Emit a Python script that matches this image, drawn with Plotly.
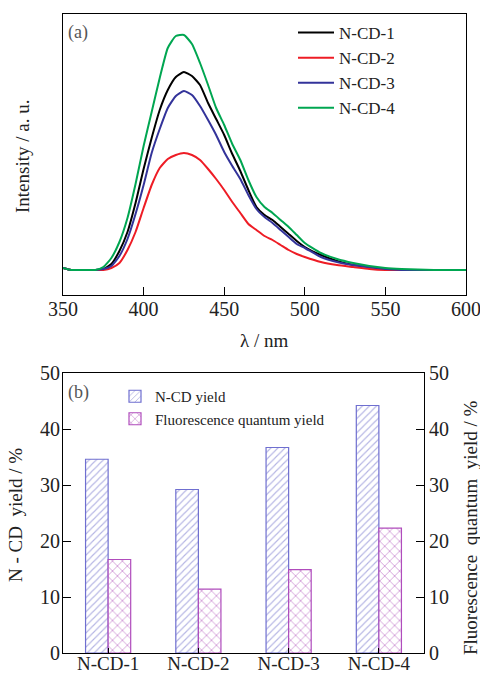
import plotly.graph_objects as go

# ---- (a) fluorescence emission spectra ----
wavelength = [350, 355, 360, 365, 370, 375, 380, 385, 390, 395, 400, 405, 410, 415,
              420, 425, 430, 435, 440, 445, 450, 455, 460, 465, 470, 475, 480, 485,
              490, 495, 500, 510, 520, 530, 540, 550, 560, 580, 600]

ncd1 = [2, 0, 0, 0, 0, 1, 6, 19, 38, 67, 101, 132, 160, 180,
        193, 198, 194, 185, 167, 151, 135, 116, 99, 80, 63, 55, 50, 43,
        36, 29, 23, 15, 9, 5, 3, 1, 0, 0, 0]
ncd2 = [2, 0, 0, 0, 0, 0, 2, 7, 20, 38, 62, 85, 102, 111,
        115, 117, 115, 110, 101, 91, 80, 68, 57, 46, 40, 34, 30, 25,
        20, 16, 13, 8, 5, 3, 1, 0, 0, 0, 0]
ncd3 = [2, 0, 0, 0, 0, 1, 4, 14, 31, 56, 85, 117, 141, 162,
        174, 179, 175, 164, 150, 135, 118, 104, 91, 75, 61, 53, 47, 40,
        33, 26, 22, 13, 8, 5, 3, 1, 0, 0, 0]
ncd4 = [2, 0, 0, 0, 0, 3, 12, 28, 52, 86, 124, 158, 192, 222,
        234, 235, 226, 207, 185, 162, 145, 126, 110, 90, 73, 63, 57, 50,
        43, 35, 27, 17, 11, 7, 4, 2, 1, 0, 0]

spectra_names = ["N-CD-1", "N-CD-2", "N-CD-3", "N-CD-4"]
spectra_colors = ["#000000", "#ee1c25", "#33339a", "#00a651"]

# ---- (b) yields ----
samples = ["N-CD-1", "N-CD-2", "N-CD-3", "N-CD-4"]
ncd_yield = [34.6, 29.2, 36.7, 44.2]
fq_yield = [16.7, 11.4, 14.9, 22.3]
yield_ticks = [0, 10, 20, 30, 40, 50]

SERIF = "Liberation Serif"
W, H = 480, 674


def px_x(p):
    return p / W


def px_y(p):
    return 1 - p / H


fig = go.Figure()

for name, vals, col in zip(spectra_names, [ncd1, ncd2, ncd3, ncd4], spectra_colors):
    fig.add_trace(go.Scatter(
        x=wavelength, y=vals, mode="lines", name=name,
        line=dict(color=col, width=2, shape="spline", smoothing=0.5),
        xaxis="x", yaxis="y", legend="legend",
    ))

fig.add_trace(go.Bar(
    x=samples, y=ncd_yield, name="N-CD yield",
    xaxis="x2", yaxis="y3", legend="legend2",
    offsetgroup="a", alignmentgroup="b",
    marker=dict(color="white", line=dict(color="#6f6fd0", width=1.2),
                pattern=dict(shape="/", fgcolor="#6a6ac8", bgcolor="white",
                             size=5, solidity=0.22)),
))
fig.add_trace(go.Bar(
    x=samples, y=fq_yield, name="Fluorescence quantum yield",
    xaxis="x2", yaxis="y4", legend="legend2",
    offsetgroup="b", alignmentgroup="b",
    marker=dict(color="white", line=dict(color="#b04cbc", width=1.2),
                pattern=dict(shape="x", fgcolor="#a843b4", bgcolor="white",
                             size=7, solidity=0.25)),
))

axis_font = dict(family=SERIF, size=20, color="#222")
line_common = dict(showline=True, linecolor="black", linewidth=1, mirror=True,
                   showgrid=False, zeroline=False, automargin=False)

fig.update_layout(
    width=W, height=H,
    margin=dict(l=0, r=0, t=0, b=0, autoexpand=False),
    paper_bgcolor="white", plot_bgcolor="white",
    barmode="group", bargap=0.5, bargroupgap=0,
    font=dict(family=SERIF, color="#222"),
    xaxis=dict(domain=[px_x(63), px_x(466)], anchor="y", range=[350, 600],
               tickvals=[350, 400, 450, 500, 550, 600], ticks="inside",
               ticklen=8, tickcolor="black", tickfont=axis_font,
               ticklabelstandoff=-4, ticklabeloverflow="allow", **line_common),
    yaxis=dict(domain=[px_y(295), px_y(14)], anchor="x", range=[-25, 256],
               showticklabels=False, ticks="", **line_common),
    xaxis2=dict(domain=[px_x(63), px_x(424)], anchor="y3", ticks="inside",
                ticklen=5, tickcolor="black",
                tickfont=dict(family=SERIF, size=19, color="#222"),
                ticklabelstandoff=-7, ticklabeloverflow="allow", **line_common),
    yaxis3=dict(domain=[px_y(653), px_y(373)], anchor="x2", range=[0, 50],
                tickvals=yield_ticks, ticks="inside", ticklen=8,
                tickcolor="black", tickfont=axis_font, ticklabelstandoff=-2,
                ticklabeloverflow="allow", **line_common),
    yaxis4=dict(overlaying="y3", anchor="x2", side="right", range=[0, 50],
                tickvals=yield_ticks, ticks="inside", ticklen=8,
                tickcolor="black", tickfont=axis_font,
                ticklabeloverflow="allow",
                showline=True, linecolor="black", linewidth=1,
                showgrid=False, zeroline=False, automargin=False),
    legend=dict(x=px_x(293), y=px_y(15), xanchor="left", yanchor="top",
                bgcolor="rgba(0,0,0,0)", font=dict(family=SERIF, size=17, color="#222"),
                itemwidth=36, tracegroupgap=0),
    legend2=dict(x=px_x(115), y=px_y(380), xanchor="left", yanchor="top",
                 bgcolor="rgba(0,0,0,0)", font=dict(family=SERIF, size=15, color="#222"),
                 tracegroupgap=0),
    showlegend=True,
)

ann_font = dict(family=SERIF, size=19, color="#222")


def label(text, x, y, angle=0, font=ann_font, xanchor="center"):
    fig.add_annotation(text=text, x=px_x(x), y=px_y(y), xref="paper", yref="paper",
                       xanchor=xanchor, yanchor="middle", textangle=angle,
                       showarrow=False, font=font)


label("Intensity / a. u.", 22, 157, angle=-90)
label("λ / nm", 264, 340)
label("(a)", 66, 33, xanchor="left", font=dict(family=SERIF, size=18, color="#555"))
label("(b)", 66, 392, xanchor="left", font=dict(family=SERIF, size=18, color="#555"))
label("N - CD  yield / %", 15, 515, angle=-90)
label("Fluorescence  quantum  yield / %", 470, 528, angle=-90)

fig.write_html("out.html")
